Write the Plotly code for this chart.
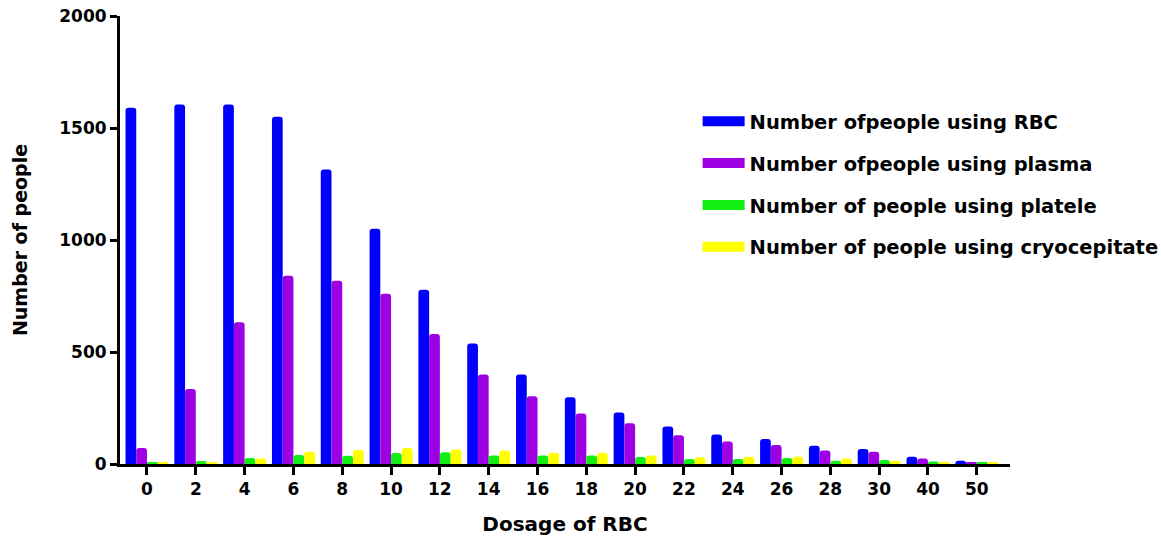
import plotly.graph_objects as go

dosage = ["0", "2", "4", "6", "8", "10", "12", "14", "16", "18", "20",
          "22", "24", "26", "28", "30", "40", "50"]
rbc = [1590, 1605, 1605, 1550, 1315, 1050, 778, 538, 400, 298, 230,
       167, 132, 112, 82, 67, 32, 15]
plasma = [71, 335, 633, 840, 818, 760, 580, 400, 302, 225, 182,
          128, 100, 85, 60, 55, 24, 8]
platelet = [8, 13, 27, 40, 37, 49, 53, 38, 38, 38, 31,
            22, 22, 27, 15, 18, 11, 8]
cryo = [5, 5, 25, 55, 62, 71, 65, 60, 50, 50, 38,
        30, 32, 32, 24, 15, 7, 7]

names = ["Number ofpeople using RBC", "Number ofpeople using plasma",
         "Number of people using platele", "Number of people using cryocepitate"]
colors = ["#0000FF", "#9D00E3", "#11EE11", "#FFFF00"]
series = [rbc, plasma, platelet, cryo]

FONT = "DejaVu Sans"

fig = go.Figure()
for name, col, vals in zip(names, colors, series):
    fig.add_trace(go.Bar(x=dosage, y=vals, name=name, marker_color=col,
                         marker_line_width=0, showlegend=False))
# legend entries
for i, (name, col) in enumerate(zip(names, colors)):
    fig.add_trace(go.Scatter(x=[None], y=[None], mode="lines", name=name,
                             line=dict(color=col, width=18),
                             legendgroup=f"g{i}"))

fig.update_layout(
    width=1161, height=542,
    margin=dict(l=120, r=151, t=16, b=78, autoexpand=False),
    plot_bgcolor="white", paper_bgcolor="white",
    barmode="group", bargap=0.12, bargroupgap=0,
    barcornerradius=3,
    font=dict(family=FONT, color="black", weight="bold"),
    legend=dict(x=0.649, y=0.808, xanchor="left", yanchor="top",
                font=dict(family=FONT, size=19.5, weight="bold"),
                itemwidth=42, tracegroupgap=13.5, traceorder="grouped",
                bgcolor="rgba(0,0,0,0)"),
    showlegend=True,
)
fig.update_xaxes(type="category", range=[-0.553, 17.68], automargin=False,
                 showline=True, linecolor="black", linewidth=3,
                 ticks="outside", ticklen=8, tickwidth=3, tickcolor="black",
                 tickfont=dict(size=17, family=FONT, weight="bold"),
                 ticklabeloverflow="allow",
                 showgrid=False, zeroline=False,
                 title=dict(text="Dosage of RBC", standoff=19,
                            font=dict(size=20, family=FONT, weight="bold")))
fig.update_yaxes(range=[0, 2000], tickvals=[0, 500, 1000, 1500, 2000],
                 automargin=False, ticklabeloverflow="allow",
                 showline=True, linecolor="black", linewidth=3,
                 ticks="outside", ticklen=7, tickwidth=3, tickcolor="black",
                 tickfont=dict(size=17, family=FONT, weight="bold"),
                 showgrid=False, zeroline=False,
                 title=dict(text="Number of people", standoff=27,
                            font=dict(size=19, family=FONT, weight="bold")))

fig.write_html("out.html",
               config={"displayModeBar": False},
               post_script="document.body.style.margin='0';")
